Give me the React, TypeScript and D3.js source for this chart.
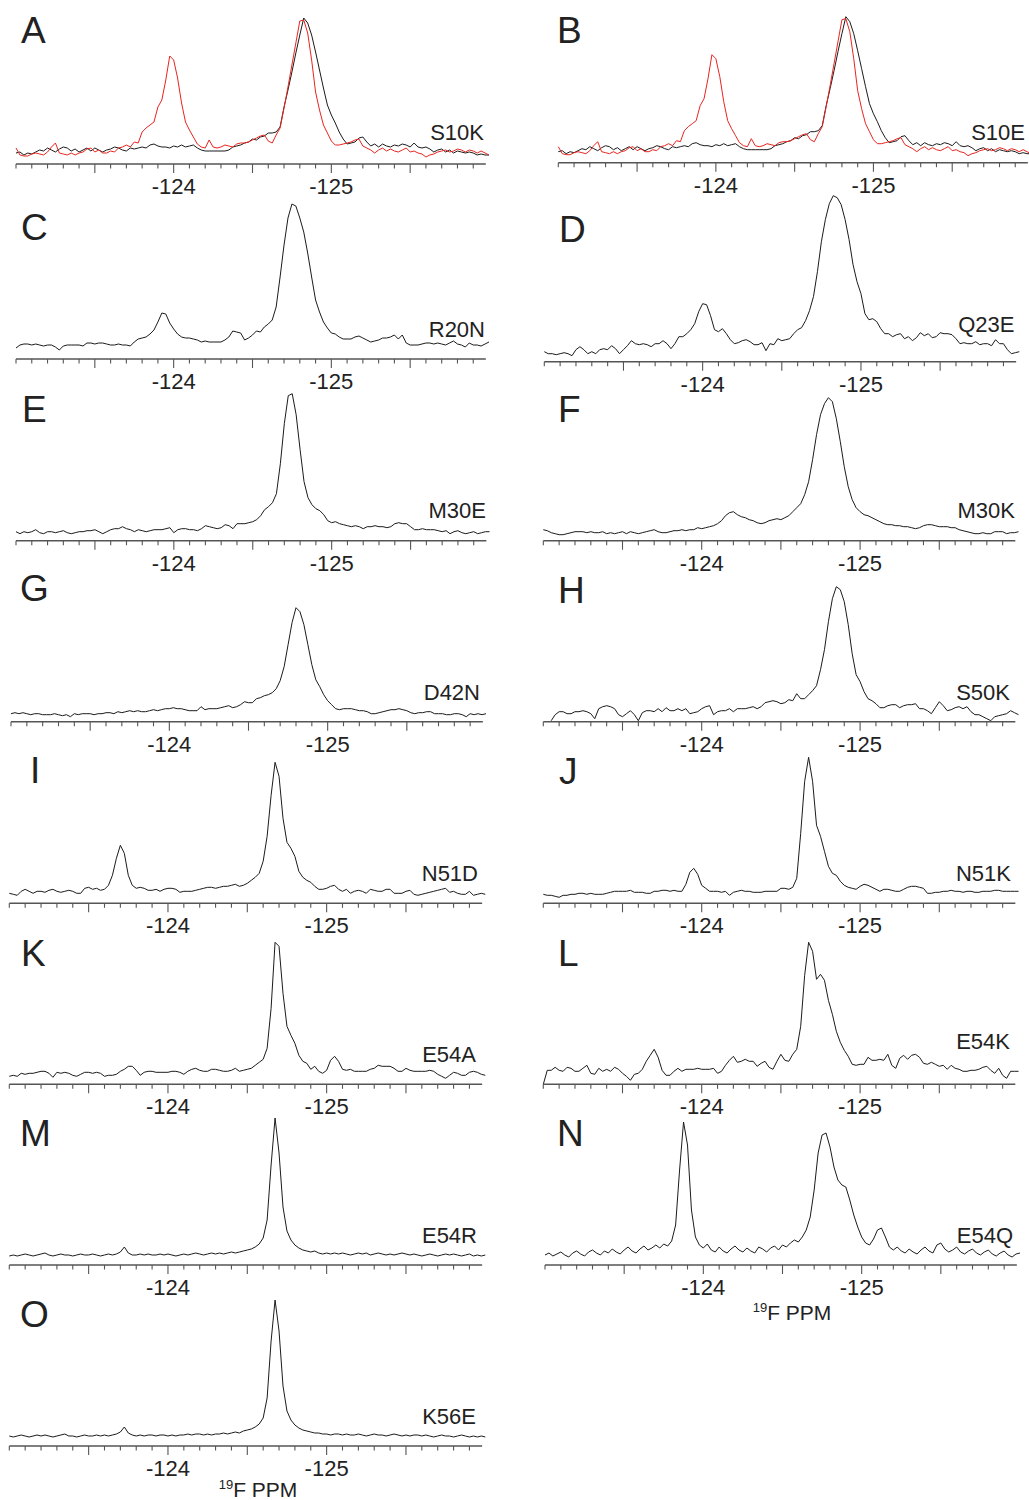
import React from 'react';
import * as d3 from 'd3';

// Chemical-shift sampling grid (ppm), 0.025 ppm steps from -123 to -126
const ppmGrid = d3.range(121).map((i) => -123 - 0.025 * i);
const axisTicks = d3.range(30).map((i) => -123 - 0.1 * i);

// 19F intensities (arbitrary units) sampled on ppmGrid
const s10kSpectrum = [
  11,12,9,11,10,12,14,13,16,14,12,15,17,16,13,15,12,14,16,13,
  16,14,12,14,15,17,16,14,13,16,15,16,17,16,19,20,18,17,17,16,
  18,17,19,17,18,19,16,14,13,13,13,13,13,13,14,17,18,19,21,22,
  25,24,27,28,31,31,32,37,57,74,92,111,129,146,141,129,112,94,76,59,
  49,41,32,25,20,21,22,26,27,22,18,20,17,20,18,17,19,18,20,19,
  17,21,17,16,17,15,12,14,15,12,14,11,13,12,11,12,11,9,10,9,
  9,
];
const s10kReference = [
  16,9,8,8,10,11,10,9,12,17,21,11,10,9,11,9,11,12,15,16,
  12,14,11,11,13,12,16,17,19,17,22,21,32,36,39,42,57,64,84,108,
  104,86,61,42,34,27,20,17,16,24,17,16,17,19,18,17,20,21,21,22,
  24,26,28,29,23,21,29,36,56,77,99,121,143,144,131,104,72,54,39,31,
  23,19,19,20,21,22,24,25,18,16,14,11,14,16,13,15,13,12,14,16,
  12,13,11,10,7,9,10,12,13,14,12,13,15,14,12,14,13,11,13,11,
  9,
];
const s10eSpectrum = s10kSpectrum.slice();
const s10eReference = s10kReference.slice();
const r20nSpectrum = [
  11,14,15,15,14,15,14,13,14,14,12,9,13,14,14,14,14,13,16,16,
  15,16,16,15,14,14,15,14,14,13,17,20,21,22,25,29,37,46,45,36,
  30,25,22,21,21,20,19,17,18,17,17,17,17,19,22,28,27,26,19,21,
  24,28,27,32,35,39,52,82,114,141,155,153,141,127,106,82,59,47,37,31,
  26,25,22,20,20,20,22,23,21,19,17,18,19,21,21,22,24,20,24,16,
  14,14,14,15,16,16,15,16,15,14,16,18,15,14,12,16,14,14,13,15,
  17,
];
const q23eSpectrum = [
  10,8,8,7,8,9,8,6,12,15,12,8,10,8,12,13,12,16,13,8,
  12,16,21,18,17,18,17,15,18,18,21,18,13,18,25,25,28,32,38,50,
  58,57,46,32,30,33,28,22,18,19,21,22,20,17,17,19,11,18,17,23,
  21,22,23,28,32,34,41,51,65,90,120,142,158,166,164,157,142,122,97,80,
  68,48,42,43,40,33,28,28,25,27,28,23,25,21,24,29,26,28,24,25,
  29,28,28,27,23,18,19,18,18,20,17,18,18,16,22,18,18,12,8,9,
  10,
];
const m30eSpectrum = [
  9,7,9,8,9,11,8,7,9,9,8,9,10,8,7,8,9,9,10,10,
  11,9,7,9,11,12,12,14,12,11,9,11,10,9,10,11,11,11,12,13,
  8,11,12,12,11,11,10,12,15,14,13,12,13,16,15,12,17,17,17,18,
  19,21,25,31,34,38,47,77,117,145,147,126,91,59,43,36,32,30,26,20,
  18,19,17,16,15,14,15,14,12,14,14,15,14,14,13,14,17,18,17,17,
  14,11,11,12,11,11,11,10,9,10,7,9,10,8,7,8,9,7,8,9,
  9,
];
const m30kSpectrum = [
  11,10,8,7,6,6,7,8,9,9,9,8,9,8,8,9,7,8,7,8,
  9,7,9,8,7,8,9,10,11,9,8,8,9,10,10,11,10,11,11,13,
  12,13,14,15,17,20,25,28,29,26,24,23,21,20,18,17,18,20,21,22,
  21,23,25,29,33,37,46,59,81,106,126,137,143,139,122,99,74,54,41,33,
  29,26,25,23,21,19,17,16,16,15,15,14,14,13,12,13,15,16,16,15,
  14,14,14,13,13,11,10,9,8,7,7,8,7,7,9,9,9,7,8,8,
  9,
];
const d42nSpectrum = [
  8,9,8,9,8,7,8,8,7,7,7,8,7,6,7,5,8,7,8,8,
  8,7,8,8,9,9,8,10,9,10,11,10,11,10,10,11,12,11,12,13,
  13,14,13,13,12,11,11,11,15,12,13,13,13,14,15,16,14,15,17,20,
  19,19,23,24,26,27,29,33,41,55,77,99,114,110,97,77,57,42,35,27,
  21,17,13,12,13,13,13,12,11,11,10,8,8,9,10,11,12,12,13,12,
  11,9,8,9,9,10,10,8,8,8,7,7,8,8,7,5,8,7,8,7,
  8,
];
const s50kSpectrum = [
  null,null,1,7,10,10,8,8,10,10,11,10,8,3,13,15,16,15,13,7,
  5,8,11,7,1,9,11,11,10,13,10,14,11,11,13,11,13,8,9,10,
  13,15,16,7,10,11,11,13,10,13,13,13,14,15,13,15,19,20,21,20,
  18,19,22,21,28,23,23,27,31,36,52,72,100,123,135,132,120,97,68,47,
  40,30,23,21,18,14,14,16,17,17,14,16,17,17,18,13,13,11,8,14,
  20,16,11,12,14,15,13,15,10,7,7,5,3,1,5,6,7,8,11,9,
  7,
];
const n51dSpectrum = [
  10,9,8,12,14,12,10,12,12,11,13,14,12,11,12,13,12,10,10,15,
  16,14,15,13,14,18,28,45,58,50,28,18,15,16,15,13,13,14,12,14,
  15,15,14,11,12,12,12,13,14,15,16,16,15,16,17,17,18,19,17,18,
  20,23,26,30,42,67,108,141,127,85,61,55,47,32,26,23,21,17,14,14,
  15,17,18,14,12,14,10,12,13,12,10,14,13,12,12,14,14,10,10,10,
  12,13,9,8,9,10,11,12,13,14,15,11,12,10,9,9,12,8,9,10,
  9,
];
const n51kSpectrum = [
  9,8,8,7,6,8,8,9,9,10,10,9,10,9,9,9,10,11,12,12,
  12,12,13,11,11,11,10,10,12,12,13,13,12,13,12,12,19,31,35,29,
  18,15,12,12,12,11,12,8,11,12,13,12,12,11,11,11,12,12,12,12,
  15,15,14,16,25,70,122,146,122,78,67,52,37,30,28,22,18,16,15,14,
  17,19,18,16,14,12,14,14,13,12,12,14,16,17,17,16,15,10,10,11,
  11,12,12,13,12,12,11,12,12,11,11,12,12,12,13,13,12,12,12,12,
  12,
];
const e54aSpectrum = [
  8,9,8,11,10,11,11,12,13,13,11,7,12,11,12,11,9,8,10,12,
  12,11,12,11,8,9,9,10,13,15,18,18,14,9,12,13,13,12,12,12,
  12,13,13,12,10,13,15,16,14,13,13,15,15,14,13,13,14,16,13,14,
  15,16,19,22,25,36,76,142,138,91,58,49,41,29,23,21,15,18,13,11,
  14,24,28,23,15,14,15,13,13,13,13,15,16,19,18,18,18,16,13,13,
  16,14,13,13,13,13,14,13,10,8,6,9,12,11,9,9,12,13,12,10,
  9,
];
const e54kSpectrum = [
  0,14,14,17,14,13,17,16,13,13,16,19,11,10,16,13,15,13,17,15,
  11,8,4,10,11,15,23,29,35,27,14,9,9,13,16,13,15,15,15,16,
  15,15,15,16,11,13,19,24,28,22,23,25,23,23,18,21,23,17,15,23,
  30,24,23,30,35,58,109,142,133,105,110,104,84,70,53,42,34,28,20,19,
  20,20,27,24,24,25,24,30,19,16,26,29,25,29,30,27,21,20,22,20,
  18,19,15,19,16,15,13,13,14,14,15,17,18,14,11,16,9,6,13,13,
  13,
];
const e54rSpectrum = [
  9,10,9,10,11,10,9,10,11,12,10,9,10,11,10,10,9,10,11,10,
  10,11,10,9,10,11,10,11,13,18,12,10,10,11,10,11,10,10,11,10,
  11,10,9,10,11,10,11,12,11,10,11,12,11,12,11,12,13,12,13,14,
  15,16,18,21,27,45,100,147,112,58,34,25,20,17,15,14,13,14,12,11,
  12,11,12,11,12,11,10,11,12,11,12,10,11,12,11,10,11,10,11,12,
  11,10,11,10,9,10,11,10,9,10,11,10,11,10,9,10,11,9,10,9,
  10,
];
const e54qSpectrum = [
  10,12,9,11,13,10,8,12,14,11,9,13,15,12,10,14,12,16,13,11,
  15,18,14,12,16,19,15,17,20,17,21,19,24,40,95,143,120,55,28,20,
  17,21,15,13,18,14,12,16,19,15,13,17,14,12,18,16,13,17,19,15,
  20,18,22,25,23,28,35,48,75,112,130,132,118,98,85,80,78,65,50,38,
  28,22,20,26,35,37,28,18,15,18,14,12,16,13,11,15,18,14,12,20,
  22,16,13,15,18,13,11,14,16,12,10,13,15,11,9,12,14,10,8,11,
  12,
];
const k56eSpectrum = [
  10,9,10,11,10,9,10,11,10,11,10,9,10,11,12,10,10,9,10,11,
  10,10,11,10,11,10,11,12,14,19,13,11,10,11,10,11,11,10,11,11,
  10,11,10,11,11,12,11,12,12,11,12,11,12,12,13,12,13,14,13,15,
  16,17,19,22,28,48,105,146,115,60,35,26,21,18,16,15,14,13,13,12,
  12,11,12,12,11,12,11,11,12,11,10,11,12,11,11,10,11,12,11,10,
  11,10,11,11,10,11,10,9,10,11,10,10,9,10,11,10,9,10,9,10,
  9,
];

const fullLabels = [-124, -125];
const shortLabels = [-124];

const INK = '#1b1b1b';
const RED = '#e8241f';
const AXIS = '#555555';
const FONT = '"Liberation Sans", Arial, Helvetica, sans-serif';

type Trace = { values: (number | null)[]; color: string };
type Panel = {
  letter: string;
  name: string;
  traces: Trace[];
  left: number;
  right: number;
  axisY: number;
  letterX: number;
  letterY: number;
  nameX: number;
  nameY: number;
  labels: number[];
};

const panels: Panel[] = [
  { letter: 'A', name: 'S10K', traces: [{ values: s10kSpectrum, color: INK }, { values: s10kReference, color: RED }], left: 16, right: 489, axisY: 164, letterX: 21, letterY: 43, nameX: 484, nameY: 140, labels: fullLabels },
  { letter: 'B', name: 'S10E', traces: [{ values: s10eSpectrum, color: INK }, { values: s10eReference, color: RED }], left: 558.3, right: 1031, axisY: 162.7, letterX: 557, letterY: 43, nameX: 1025, nameY: 140, labels: fullLabels },
  { letter: 'C', name: 'R20N', traces: [{ values: r20nSpectrum, color: INK }], left: 16, right: 489, axisY: 359, letterX: 21, letterY: 240, nameX: 485, nameY: 336.5, labels: fullLabels },
  { letter: 'D', name: 'Q23E', traces: [{ values: q23eSpectrum, color: INK }], left: 544.3, right: 1019.3, axisY: 361.7, letterX: 559, letterY: 242, nameX: 1014.5, nameY: 331.5, labels: fullLabels },
  { letter: 'E', name: 'M30E', traces: [{ values: m30eSpectrum, color: INK }], left: 16, right: 489.5, axisY: 540.7, letterX: 22, letterY: 421.5, nameX: 486, nameY: 518.3, labels: fullLabels },
  { letter: 'F', name: 'M30K', traces: [{ values: m30kSpectrum, color: INK }], left: 543.3, right: 1018.5, axisY: 540.7, letterX: 558, letterY: 421.5, nameX: 1015, nameY: 518.3, labels: fullLabels },
  { letter: 'G', name: 'D42N', traces: [{ values: d42nSpectrum, color: INK }], left: 11, right: 486, axisY: 721.7, letterX: 20, letterY: 601, nameX: 480, nameY: 700, labels: fullLabels },
  { letter: 'H', name: 'S50K', traces: [{ values: s50kSpectrum, color: INK }], left: 543.3, right: 1018.5, axisY: 721.7, letterX: 558, letterY: 603, nameX: 1010, nameY: 700, labels: fullLabels },
  { letter: 'I', name: 'N51D', traces: [{ values: n51dSpectrum, color: INK }], left: 9.3, right: 485.3, axisY: 903.3, letterX: 30, letterY: 783, nameX: 478, nameY: 881, labels: fullLabels },
  { letter: 'J', name: 'N51K', traces: [{ values: n51kSpectrum, color: INK }], left: 543.3, right: 1018.5, axisY: 903.3, letterX: 559, letterY: 784, nameX: 1011, nameY: 881, labels: fullLabels },
  { letter: 'K', name: 'E54A', traces: [{ values: e54aSpectrum, color: INK }], left: 9.3, right: 485.3, axisY: 1084.3, letterX: 21, letterY: 966, nameX: 476, nameY: 1062.3, labels: fullLabels },
  { letter: 'L', name: 'E54K', traces: [{ values: e54kSpectrum, color: INK }], left: 543.3, right: 1018.5, axisY: 1084.3, letterX: 558, letterY: 966, nameX: 1010, nameY: 1049, labels: fullLabels },
  { letter: 'M', name: 'E54R', traces: [{ values: e54rSpectrum, color: INK }], left: 9.3, right: 485.3, axisY: 1265, letterX: 20, letterY: 1146, nameX: 477, nameY: 1243, labels: shortLabels },
  { letter: 'N', name: 'E54Q', traces: [{ values: e54qSpectrum, color: INK }], left: 545, right: 1020, axisY: 1265, letterX: 557, letterY: 1146, nameX: 1013, nameY: 1243, labels: fullLabels },
  { letter: 'O', name: 'K56E', traces: [{ values: k56eSpectrum, color: INK }], left: 9.3, right: 485.3, axisY: 1446, letterX: 20, letterY: 1327, nameX: 476, nameY: 1424, labels: fullLabels },
];

const axisTitles = [
  { x: 792, y: 1320 },
  { x: 258, y: 1497 },
];

function SpectrumPanel({ p }: { p: Panel }) {
  const x = d3.scaleLinear().domain([-123, -126]).range([p.left, p.right]);
  const y = d3.scaleLinear().domain([0, 100]).range([p.axisY, p.axisY - 100]);
  const line = d3
    .line<number | null>()
    .defined((v) => v !== null)
    .x((_, i) => x(ppmGrid[i]))
    .y((v) => y(v as number));

  return (
    <g>
      {p.traces.map((t, k) => (
        <path
          key={k}
          d={line(t.values) ?? ''}
          fill="none"
          stroke={t.color}
          strokeWidth={1}
          strokeLinejoin="round"
        />
      ))}
      <line x1={x(-123)} x2={x(-125.98)} y1={p.axisY} y2={p.axisY} stroke={AXIS} strokeWidth={1.5} />
      {axisTicks.map((t, i) => {
        const major = i > 0 && i % 5 === 0;
        return (
          <line
            key={i}
            x1={x(t)}
            x2={x(t)}
            y1={p.axisY}
            y2={p.axisY + (major ? 9 : 4.5)}
            stroke={AXIS}
            strokeWidth={1.1}
          />
        );
      })}
      {p.labels.map((v) => (
        <text key={v} x={x(v)} y={p.axisY + 30} textAnchor="middle" fontSize={22} fill="#222" fontFamily={FONT}>
          {String(v)}
        </text>
      ))}
      <text x={p.letterX} y={p.letterY} fontSize={37} fill="#222" fontFamily={FONT}>
        {p.letter}
      </text>
      <text x={p.nameX} y={p.nameY} textAnchor="end" fontSize={22} fill="#222" fontFamily={FONT}>
        {p.name}
      </text>
    </g>
  );
}

export default function App() {
  return (
    <div style={{ position: 'absolute', left: 0, top: 0, width: 1029, height: 1500, background: '#fff' }}>
      <svg width={1029} height={1500} viewBox="0 0 1029 1500" style={{ display: 'block' }}>
        <rect x={0} y={0} width={1029} height={1500} fill="#fff" />
        {panels.map((p) => (
          <SpectrumPanel key={p.letter} p={p} />
        ))}
        {axisTitles.map((t, i) => (
          <text key={i} x={t.x} y={t.y} textAnchor="middle" fill="#222" fontFamily={FONT} fontSize={21}>
            <tspan fontSize={13} dy={-8}>19</tspan>
            <tspan dy={8}>F PPM</tspan>
          </text>
        ))}
      </svg>
    </div>
  );
}
